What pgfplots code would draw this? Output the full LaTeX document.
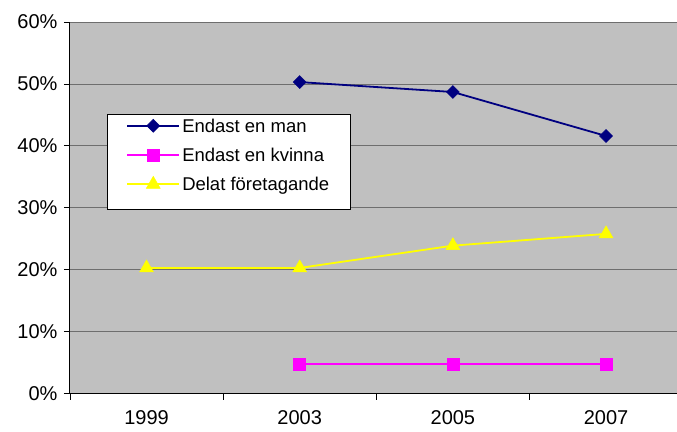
\documentclass[border=0pt]{standalone}
\usepackage{pgfplots}
\pgfplotsset{compat=1.18}
\usepackage{fontspec}
\setmainfont{Liberation Sans}
\definecolor{bg}{HTML}{C0C0C0}
\definecolor{gridc}{HTML}{6E6E6E}
\definecolor{navyc}{HTML}{000080}
\definecolor{magc}{HTML}{FF00FF}
\definecolor{yelc}{HTML}{FFFF00}
\begin{document}
\begin{tikzpicture}
\path (-70pt,-38pt) rectangle (607pt,394pt);
\begin{axis}[
  scale only axis,
  width=607pt, height=372pt,
  xmin=-0.5, xmax=3.46,
  ymin=0, ymax=60,
  axis background/.style={fill=bg},
  axis x line*=bottom, axis y line*=left,
  axis line style={-, black, line width=1pt},
  xtick={0,1,2,3},
  xticklabels={1999,2003,2005,2007},
  minor xtick={-0.5,0.5,1.5,2.5},
  major x tick style={draw=none},
  minor x tick style={black, line width=0.8pt},
  minor tick length=6pt,
  ytick={0,10,20,30,40,50,60},
  yticklabel={\pgfmathprintnumber{\tick}\%},
  y tick style={black, line width=0.8pt},
  major tick length=6pt,
  tick align=outside,
  ymajorgrids,
  grid style={gridc, line width=0.8pt},
  /pgf/number format/assume math mode=true,
  tick label style={font=\fontsize{20}{23}\selectfont},
  xticklabel style={yshift=-7pt},
  yticklabel style={xshift=-3pt},
  clip=false,
  legend style={at={(37pt,280pt)}, anchor=north west,
    legend cell align=left, draw=black, line width=0.8pt, fill=white,
    font=\fontsize{18.5}{21}\selectfont, inner xsep=19pt, inner ysep=4pt,
    row sep=0pt,
    nodes={inner xsep=2pt, inner ysep=0pt, text height=14pt, text depth=15pt, anchor=base west}},
  legend image code/.code={
    \draw[#1, line width=2pt, mark repeat=2, mark phase=2] plot coordinates {(0pt,6.5pt) (26pt,6.5pt) (52pt,6.5pt)};},
]
\addplot[navyc, line width=1.8pt, mark=square*, mark size=4.6pt, mark options={rotate=45, fill=navyc, line width=0.5pt}]
  coordinates {(1,50.3) (2,48.7) (3,41.6)};
\addlegendentry{Endast en man}
\addplot[magc, line width=1.8pt, mark=square*, mark size=6pt, mark options={fill=magc, line width=0.5pt}]
  coordinates {(1,4.8) (2,4.8) (3,4.8)};
\addlegendentry{Endast en kvinna}
\addplot[yelc, line width=1.8pt, mark=triangle*, mark size=8pt, mark options={fill=yelc, line width=0.5pt}]
  coordinates {(0,20.3) (1,20.3) (2,23.9) (3,25.8)};
\addlegendentry{Delat företagande}
\end{axis}
\end{tikzpicture}
\end{document}
